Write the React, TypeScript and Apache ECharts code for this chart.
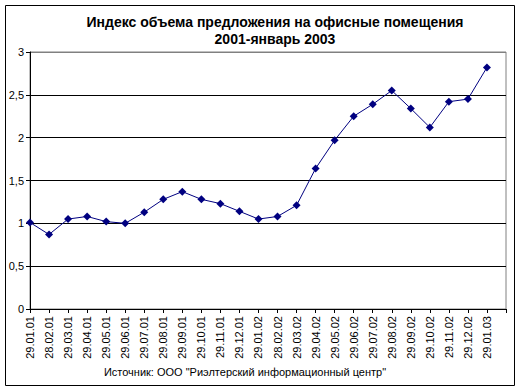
import React, { useEffect, useRef } from 'react';
import * as echarts from 'echarts';

const titleLines = ['Индекс объема предложения на офисные помещения', '2001-январь 2003'];
const sourceText = 'Источник: ООО "Риэлтерский информационный центр"';
const categories = [
  '29.01.01', '28.02.01', '29.03.01', '29.04.01', '29.05.01', '29.06.01',
  '29.07.01', '29.08.01', '29.09.01', '29.10.01', '29.11.01', '29.12.01',
  '29.01.02', '28.02.02', '29.03.02', '29.04.02', '29.05.02', '29.06.02',
  '29.07.02', '29.08.02', '29.09.02', '29.10.02', '29.11.02', '29.12.02',
  '29.01.03',
];
const values = [
  1.01, 0.87, 1.05, 1.08, 1.02, 1.0,
  1.13, 1.28, 1.37, 1.28, 1.23, 1.14,
  1.05, 1.08, 1.21, 1.64, 1.97, 2.25,
  2.39, 2.55, 2.34, 2.12, 2.42, 2.45,
  2.82,
];
const yMin = 0;
const yMax = 3;
const yStep = 0.5;

const FONT = '"Liberation Sans", Arial, sans-serif';

export default function App() {
  const ref = useRef<HTMLDivElement>(null);
  useEffect(() => {
    if (!ref.current) return;
    const chart = echarts.init(ref.current, null, { renderer: 'svg' });
    const nLines = Math.round((yMax - yMin) / yStep) + 1;
    const splitColors = Array.from({ length: nLines }, (_, i) => (i === nLines - 1 ? '#808080' : '#000000'));
    chart.setOption({
      animation: false,
      backgroundColor: '#ffffff',
      textStyle: { fontFamily: FONT },
      title: {
        text: titleLines.join('\n'),
        left: 270,
        top: 8,
        textAlign: 'center',
        textStyle: { fontFamily: FONT, fontSize: 14, fontWeight: 'bold', color: '#000', lineHeight: 17 },
      },
      graphic: [
        {
          type: 'rect',
          shape: { x: 5.5, y: 5.5, width: 509, height: 380 },
          style: { fill: 'none', stroke: '#000', lineWidth: 1 },
          silent: true,
        },
        {
          type: 'text',
          x: 245,
          y: 372,
          style: {
            text: sourceText,
            fontFamily: FONT,
            fontSize: 11,
            fill: '#000',
            align: 'center',
            verticalAlign: 'middle',
          },
        },
      ],
      grid: {
        left: 30,
        top: 52,
        width: 476,
        height: 257,
        show: true,
        borderColor: '#808080',
        borderWidth: 1,
        backgroundColor: '#ffffff',
        containLabel: false,
      },
      xAxis: {
        type: 'category',
        data: [...categories, ''],
        boundaryGap: false,
        axisLine: { lineStyle: { color: '#000', width: 1 } },
        axisTick: { show: true, length: 4, inside: false, alignWithLabel: true, lineStyle: { color: '#000' } },
        axisLabel: { rotate: 90, interval: 0, fontSize: 11, color: '#000', margin: 7, fontFamily: FONT },
        splitLine: { show: false },
      },
      yAxis: {
        type: 'value',
        min: yMin,
        max: yMax,
        interval: yStep,
        axisLine: { show: true, lineStyle: { color: '#000', width: 1 } },
        axisTick: { show: true, length: 4, inside: false, lineStyle: { color: '#000' } },
        axisLabel: {
          fontSize: 11,
          color: '#000',
          margin: 6,
          fontFamily: FONT,
          formatter: (v: number) => String(v).replace('.', ','),
        },
        splitLine: { show: true, lineStyle: { color: splitColors, width: 1 } },
      },
      series: [
        {
          type: 'line',
          data: values,
          symbol: 'diamond',
          symbolSize: 8,
          showSymbol: true,
          lineStyle: { color: '#000080', width: 1 },
          itemStyle: { color: '#000080' },
        },
      ],
    });
    return () => chart.dispose();
  }, []);
  return <div ref={ref} style={{ position: 'absolute', left: 0, top: 0, width: 522, height: 391 }} />;
}
